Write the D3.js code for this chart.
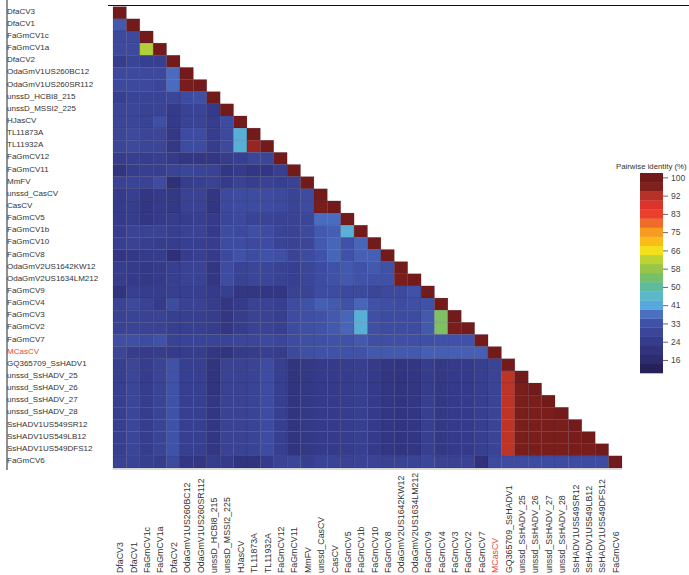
<!DOCTYPE html>
<html>
<head>
<meta charset="utf-8">
<script src="https://cdn.jsdelivr.net/npm/d3@7"></script>
<style>
  body { margin: 0; background: #fff; }
  text { font-family: "Liberation Sans", Arial, sans-serif; }
</style>
</head>
<body>
<div id="chart"></div>
<script>
// Sequence names (row order = column order)
const labels = [
    "DfaCV3", "DfaCV1", "FaGmCV1c", "FaGmCV1a", "DfaCV2",
    "OdaGmV1US260BC12", "OdaGmV1US260SR112", "unssD_HCBI8_215", "unssD_MSSI2_225", "HJasCV",
    "TL11873A", "TL11932A", "FaGmCV12", "FaGmCV11", "MmFV",
    "unssd_CasCV", "CasCV", "FaGmCV5", "FaGmCV1b", "FaGmCV10",
    "FaGmCV8", "OdaGmV2US1642KW12", "OdaGmV2US1634LM212", "FaGmCV9", "FaGmCV4",
    "FaGmCV3", "FaGmCV2", "FaGmCV7", "MCasCV", "GQ365709_SsHADV1",
    "unssd_SsHADV_25", "unssd_SsHADV_26", "unssd_SsHADV_27", "unssd_SsHADV_28", "SsHADV1US549SR12",
    "SsHADV1US549LB12", "SsHADV1US549DFS12", "FaGmCV6"
];
const highlighted = ["MCasCV"];

// Pairwise identity (%), lower triangle, row i has i+1 values (diagonal last)
const identity = [
    [100],
    [34, 100],
    [30, 30, 100],
    [30, 30, 61, 100],
    [25, 28, 26, 26, 100],
    [30, 30, 30, 30, 37, 100],
    [30, 30, 30, 29, 37, 98, 100],
    [26, 28, 28, 28, 29, 31, 32, 100],
    [29, 29, 27, 28, 24, 27, 28, 24, 100],
    [29, 29, 28, 32, 24, 28, 28, 25, 31, 100],
    [29, 30, 29, 29, 23, 31, 31, 25, 30, 43, 100],
    [29, 30, 29, 29, 23, 31, 31, 25, 30, 43, 94, 100],
    [25, 26, 25, 26, 24, 22, 22, 22, 25, 26, 29, 29, 100],
    [21, 25, 26, 26, 28, 29, 28, 27, 22, 24, 22, 22, 26, 100],
    [27, 28, 27, 31, 19, 25, 26, 27, 24, 27, 26, 27, 26, 27, 100],
    [24, 26, 22, 24, 23, 27, 27, 22, 30, 31, 31, 31, 30, 28, 31, 100],
    [24, 25, 22, 24, 23, 27, 27, 22, 30, 31, 31, 31, 30, 28, 31, 97, 100],
    [24, 25, 22, 24, 25, 25, 26, 24, 29, 30, 28, 28, 27, 27, 29, 37, 37, 100],
    [25, 28, 27, 27, 26, 27, 27, 24, 31, 30, 32, 31, 28, 27, 30, 34, 35, 43, 100],
    [26, 27, 26, 25, 25, 26, 26, 25, 31, 31, 30, 31, 28, 27, 29, 34, 36, 33, 36, 100],
    [22, 23, 24, 25, 19, 25, 26, 24, 30, 33, 31, 33, 32, 28, 31, 33, 36, 33, 35, 35, 100],
    [25, 24, 23, 24, 26, 27, 27, 22, 31, 27, 29, 29, 27, 26, 29, 31, 33, 34, 33, 34, 33, 100],
    [25, 24, 23, 24, 26, 27, 27, 22, 31, 27, 29, 29, 27, 26, 29, 31, 33, 34, 33, 33, 33, 97, 100],
    [21, 26, 25, 25, 26, 26, 26, 24, 26, 22, 22, 22, 22, 27, 28, 31, 31, 30, 30, 29, 30, 30, 33, 100],
    [28, 30, 27, 24, 31, 27, 27, 25, 22, 24, 27, 27, 26, 31, 33, 35, 34, 33, 36, 33, 32, 31, 32, 33, 100],
    [27, 28, 27, 27, 26, 26, 26, 25, 22, 25, 27, 27, 26, 31, 32, 33, 34, 36, 43, 32, 31, 31, 31, 34, 55, 100],
    [27, 28, 27, 27, 26, 26, 26, 25, 22, 25, 27, 27, 26, 31, 32, 33, 34, 36, 43, 32, 31, 31, 31, 34, 55, 97, 100],
    [32, 32, 31, 33, 27, 28, 28, 28, 28, 29, 29, 30, 29, 31, 32, 32, 33, 33, 34, 32, 32, 32, 32, 32, 33, 33, 33, 100],
    [29, 25, 24, 25, 24, 25, 25, 22, 21, 24, 25, 26, 25, 30, 32, 33, 33, 33, 33, 34, 34, 34, 34, 35, 35, 35, 35, 35, 100],
    [26, 29, 25, 28, 33, 26, 26, 21, 27, 27, 28, 31, 26, 21, 23, 24, 24, 25, 26, 24, 22, 21, 22, 25, 23, 24, 24, 26, 28, 100],
    [26, 29, 25, 28, 33, 26, 26, 21, 27, 27, 28, 31, 26, 21, 23, 24, 24, 25, 26, 24, 22, 21, 22, 25, 23, 24, 24, 26, 28, 91, 100],
    [26, 29, 25, 28, 33, 26, 26, 21, 27, 27, 28, 31, 26, 21, 23, 24, 24, 25, 26, 24, 22, 21, 22, 25, 23, 24, 24, 26, 28, 91, 97, 100],
    [26, 29, 25, 28, 33, 26, 26, 22, 27, 27, 28, 31, 26, 21, 23, 24, 24, 25, 26, 24, 22, 21, 22, 26, 23, 24, 24, 26, 28, 91, 97, 97, 100],
    [26, 29, 25, 28, 33, 26, 26, 22, 27, 27, 28, 31, 26, 21, 23, 24, 24, 25, 26, 24, 22, 21, 22, 26, 23, 24, 24, 26, 28, 91, 97, 97, 97, 100],
    [26, 29, 25, 28, 33, 26, 26, 22, 27, 27, 28, 31, 26, 21, 23, 24, 24, 25, 26, 24, 22, 21, 22, 26, 23, 24, 24, 26, 28, 91, 97, 97, 97, 97, 100],
    [26, 29, 25, 28, 33, 26, 26, 22, 27, 27, 28, 31, 26, 21, 23, 24, 24, 25, 26, 24, 22, 21, 22, 26, 23, 24, 24, 26, 28, 91, 97, 97, 97, 97, 98, 100],
    [26, 29, 25, 28, 33, 26, 26, 22, 27, 27, 28, 31, 26, 21, 23, 24, 24, 25, 26, 24, 22, 21, 22, 26, 23, 24, 24, 26, 28, 91, 97, 97, 97, 97, 98, 98, 100],
    [27, 28, 26, 25, 30, 22, 22, 25, 24, 21, 21, 24, 28, 29, 26, 28, 28, 27, 28, 28, 27, 27, 28, 29, 27, 27, 27, 20, 30, 31, 31, 31, 31, 31, 31, 31, 31, 100]
];

// Colour bar ticks (shown rounded)
const legendTicks = [16, 24.4, 32.8, 41.2, 49.6, 58, 66.4, 74.8, 83.2, 91.6, 100];

// colour map stops
const stopValues = [10, 14, 19, 24, 29, 33, 37, 41, 45, 50, 54, 58, 62, 66, 70, 75, 79, 83, 87, 90, 93, 96, 100];
const stopColors = ["#221a4a", "#2a2866", "#2f3078", "#353b8a", "#3b4699", "#3f52a8", "#4a6cc0", "#55a8de",
    "#5ab8d0", "#5fbb9a", "#76c06a", "#98c548", "#b8d236", "#f2e41e", "#fcc017", "#f79a22",
    "#f06a28", "#e8412c", "#e0322c", "#c83a2a", "#a62a22", "#7c1f1c", "#731b1b"];

const W = 689, H = 575;
const svg = d3.select("#chart").append("svg")
    .attr("width", W)
    .attr("height", H);

const x = d3.scaleBand().domain(labels).range([113, 622]);
const y = d3.scaleBand().domain(labels).range([6.7, 468]);
const color = d3.scaleLinear().domain(stopValues).range(stopColors).clamp(true);

// cells
const cells = [];
identity.forEach((row, i) => row.forEach((v, j) => cells.push({ r: labels[i], c: labels[j], v })));

svg.append("g").selectAll("rect")
    .data(cells)
    .join("rect")
    .attr("x", d => x(d.c))
    .attr("y", d => y(d.r))
    .attr("width", x.bandwidth())
    .attr("height", y.bandwidth())
    .attr("fill", d => color(d.v))
    .attr("stroke", "rgba(20,20,60,0.25)")
    .attr("stroke-width", 0.5);

// frame lines
svg.append("line").attr("x1", 108).attr("x2", W).attr("y1", 5.5).attr("y2", 5.5)
    .attr("stroke", "#111").attr("stroke-width", 1.2);
svg.append("line").attr("x1", 7).attr("x2", 7).attr("y1", 0).attr("y2", 470)
    .attr("stroke", "#222").attr("stroke-width", 1);
svg.append("line").attr("x1", 113).attr("x2", 622).attr("y1", 469).attr("y2", 469)
    .attr("stroke", "#bbb").attr("stroke-width", 1);

const labCol = d => highlighted.includes(d) ? "#e8453c" : "#333";

// row labels
svg.append("g").selectAll("text")
    .data(labels)
    .join("text")
    .attr("x", 7)
    .attr("y", d => y(d) + y.bandwidth() / 2 - 1.5)
    .attr("dominant-baseline", "central")
    .attr("font-size", 8)
    .attr("fill", labCol)
    .text(d => d);

// column labels
svg.append("g").selectAll("text")
    .data(labels)
    .join("text")
    .attr("transform", d => `translate(${x(d) + x.bandwidth() / 2 + 0.5},573) rotate(-90)`)
    .attr("dominant-baseline", "central")
    .attr("font-size", 8.8)
    .attr("fill", labCol)
    .text(d => d);

// colour bar
const ly = d3.scaleLinear().domain([10, 102]).range([373, 173]);
const nBands = 22;
const bandVals = d3.range(nBands).map(k => 10 + (k + 0.5) * 92 / nBands);
const bar = svg.append("g");
bar.selectAll("rect")
    .data(bandVals)
    .join("rect")
    .attr("x", 640)
    .attr("width", 23)
    .attr("y", d => ly(d + 46 / nBands))
    .attr("height", ly(0) - ly(92 / nBands) + 0.3)
    .attr("fill", d => color(d));

const axis = d3.axisRight(ly)
    .tickValues(legendTicks)
    .tickFormat(d => Math.round(d))
    .tickSize(5)
    .tickPadding(3);
const ag = bar.append("g").attr("transform", "translate(663,0)").call(axis);
ag.select(".domain").remove();
ag.selectAll(".tick line").attr("stroke", "#666");
ag.selectAll(".tick text")
    .attr("font-size", 8.5)
    .attr("fill", "#444")
    .style("font-family", "'Liberation Sans', Arial, sans-serif");

svg.append("text")
    .attr("x", 616)
    .attr("y", 166)
    .attr("dominant-baseline", "central")
    .attr("font-size", 7.8)
    .attr("fill", "#333")
    .text("Pairwise identity (%)");
</script>
</body>
</html>
